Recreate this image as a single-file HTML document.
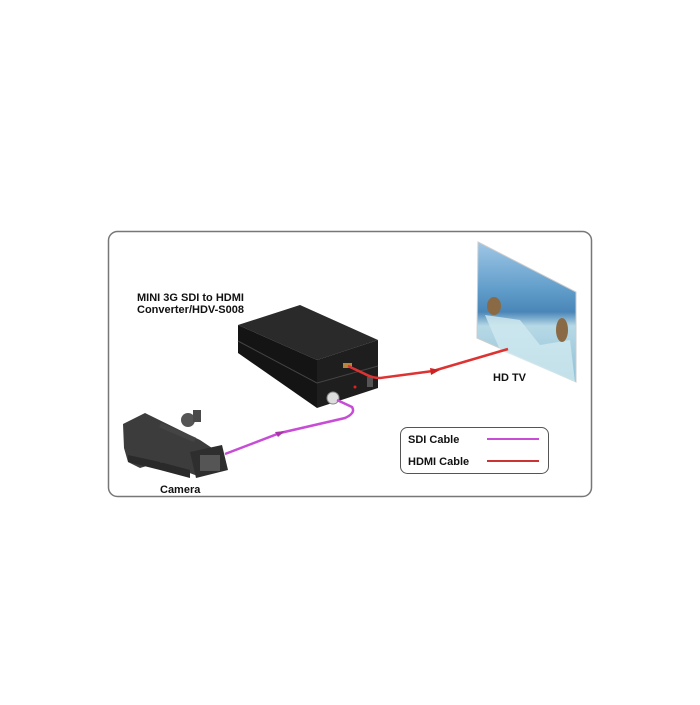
<!DOCTYPE html>
<html><head><style>
body{margin:0;width:700px;height:700px;background:#fff;overflow:hidden}
</style></head><body>
<svg width="700" height="700" viewBox="0 0 700 700" xmlns="http://www.w3.org/2000/svg" font-family="Liberation Sans, sans-serif" font-weight="bold">
<rect x="108.5" y="231.5" width="483" height="265" rx="9" fill="#fff" stroke="#777" stroke-width="1.5"/>
<defs>
<linearGradient id="tv" x1="0" y1="0" x2="0" y2="1">
<stop offset="0" stop-color="#9fc6e6"/><stop offset="0.35" stop-color="#5f9cc9"/><stop offset="0.5" stop-color="#4a86b8"/><stop offset="0.6" stop-color="#b7d9e6"/><stop offset="1" stop-color="#8fc0d6"/>
</linearGradient>
</defs>
<polygon points="478,242 576,292 576,382 477,338" fill="url(#tv)" stroke="#ccc"/>
<polygon points="485,315 520,320 540,345 570,340 575,382 500,350" fill="#cfe8ef" opacity="0.8"/>
<ellipse cx="494" cy="306" rx="7" ry="9" fill="#8a6a45"/>
<ellipse cx="562" cy="330" rx="6" ry="12" fill="#8a6a45"/>
<!-- converter box -->
<polygon points="238,325 300,305 378,340 317,360" fill="#2a2a2a"/>
<polygon points="238,325 317,360 317,408 238,353" fill="#141414"/>
<polygon points="317,360 378,340 378,388 317,408" fill="#1e1e1e"/>
<line x1="238" y1="341" x2="317" y2="383" stroke="#444"/>
<line x1="317" y1="383" x2="378" y2="366" stroke="#444"/>
<rect x="343" y="363" width="9" height="5" fill="#b8863a"/>
<circle cx="355" cy="387" r="1.5" fill="#d22"/>
<rect x="367" y="377" width="6" height="10" fill="#555"/>
<circle cx="333" cy="398" r="6" fill="#ddd" stroke="#888"/>
<!-- cables -->
<path d="M348,366 L365,374 Q372,378 380,378 L433,371 L508,349" fill="none" stroke="#d33" stroke-width="2.5"/>
<polygon points="430,368 440,370 431,375" fill="#c22"/>
<path d="M337,400 L352,407 Q356,413 345,418 L280,433 L225,454" fill="none" stroke="#c84dd6" stroke-width="2.5"/>
<polygon points="275,432 285,431 278,437" fill="#a3a"/>
<!-- camera -->
<polygon points="123,424 145,413 200,440 215,450 215,472 195,475 160,462 140,468 128,462 124,448" fill="#3c3c3c"/>
<polygon points="128,455 160,462 190,470 190,478 160,470 128,462" fill="#2a2a2a"/>
<polygon points="190,452 222,445 228,470 196,478" fill="#2e2e2e"/>
<rect x="200" y="455" width="20" height="16" fill="#555"/>
<line x1="160" y1="425" x2="195" y2="440" stroke="#444" stroke-width="5"/>
<circle cx="188" cy="420" r="7" fill="#555"/>
<rect x="193" y="410" width="8" height="12" fill="#4a4a4a"/>
<!-- text -->
<text x="137" y="301" font-size="11" fill="#111">MINI 3G SDI to HDMI</text>
<text x="137" y="313" font-size="11" fill="#111">Converter/HDV-S008</text>
<text x="493" y="381" font-size="11" fill="#111">HD TV</text>
<text x="160" y="493" font-size="11" fill="#111">Camera</text>
<rect x="400.5" y="427.5" width="148" height="46" rx="7" fill="#fff" stroke="#555"/>
<text x="408" y="443" font-size="11" fill="#111">SDI Cable</text>
<line x1="487" y1="439" x2="539" y2="439" stroke="#c84dd6" stroke-width="2"/>
<text x="408" y="465" font-size="11" fill="#111">HDMI Cable</text>
<line x1="487" y1="461" x2="539" y2="461" stroke="#c33" stroke-width="2"/>
</svg>
</body></html>
